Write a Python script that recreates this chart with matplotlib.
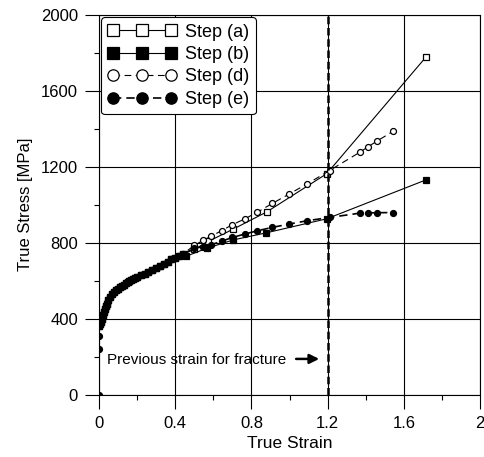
import matplotlib
matplotlib.use("Agg")
import matplotlib.pyplot as plt
from matplotlib.ticker import MultipleLocator

plt.rcParams['font.family'] = ['Liberation Sans', 'DejaVu Sans']

# shared initial flow curve (all steps)
base_strain = [0.0, 0.005, 0.01, 0.015, 0.02, 0.025, 0.03, 0.035, 0.04, 0.05, 0.06, 0.07,
               0.08, 0.09, 0.10, 0.11, 0.12, 0.13, 0.14, 0.15, 0.16, 0.17, 0.18, 0.19,
               0.20, 0.22, 0.24, 0.26, 0.28, 0.30, 0.32, 0.34, 0.36, 0.38, 0.40,
               0.42, 0.44]
base_stress = [363, 372, 385, 400, 420, 436, 450, 465, 478, 498, 514, 528,
               540, 550, 558, 566, 573, 580, 586, 592, 598, 603, 608, 613,
               618, 628, 638, 648, 658, 668, 678, 690, 700, 712, 722,
               732, 740]

# elastic loading points (step e only)
load_strain = [0.0, 0.0, 0.0]
load_stress = [0, 240, 307]

a_strain = [0.50, 0.574, 0.705, 0.88, 1.195, 1.714]
a_stress = [765, 807, 872, 962, 1163, 1775]

b_strain = [0.455, 0.569, 0.705, 0.877, 1.195, 1.714]
b_stress = [728, 772, 815, 852, 926, 1130]

de_strain = [0.50, 0.545, 0.59, 0.644, 0.70, 0.766, 0.831, 0.91, 0.997, 1.093, 1.21,
             1.37, 1.412, 1.459, 1.543]
d_stress = [786, 812, 835, 864, 895, 926, 961, 1007, 1056, 1110, 1180,
            1277, 1305, 1335, 1386]
e_stress = [770, 780, 790, 808, 828, 846, 863, 881, 898, 916, 933,
            956, 957, 958, 959]

fracture_strain = 1.2

fig = plt.figure(figsize=(4.85, 4.57), dpi=100, facecolor='white')
ax = fig.add_axes([0.204, 0.136, 0.786, 0.832])

ms = 4.3
ax.plot(base_strain + a_strain, base_stress + a_stress, '-', color='black', lw=0.8,
        marker='s', ms=ms, mfc='white', mec='black', mew=0.9, label='Step (a)', zorder=3)
ax.plot(base_strain + b_strain, base_stress + b_stress, '-', color='black', lw=0.8,
        marker='s', ms=ms, mfc='black', mec='black', mew=0.9, label='Step (b)', zorder=3)
ax.plot(base_strain + de_strain, base_stress + d_stress, linestyle=(0, (6, 4)), color='black', lw=0.8,
        marker='o', ms=ms, mfc='white', mec='black', mew=0.9, label='Step (d)', zorder=3)
ax.plot(load_strain + base_strain + de_strain, load_stress + base_stress + e_stress,
        linestyle=(0, (5, 3)), color='black', lw=1.2,
        marker='o', ms=ms, mfc='black', mec='black', mew=0.9, label='Step (e)', zorder=3)

ax.plot([fracture_strain, fracture_strain], [0, 2000], color='black', lw=1.8,
        linestyle=(0, (3, 1.5)), zorder=3)

ax.annotate('', xy=(1.17, 189), xytext=(1.02, 189),
            arrowprops=dict(arrowstyle='-|>', lw=1.8, color='black', mutation_scale=14))
ax.text(0.04, 185, 'Previous strain for fracture', fontsize=11, va='center', ha='left')

ax.set_xlim(0, 2)
ax.set_ylim(0, 2000)
ax.xaxis.set_minor_locator(MultipleLocator(0.2))
ax.yaxis.set_major_locator(MultipleLocator(400))
ax.yaxis.set_minor_locator(MultipleLocator(200))
ax.set_xticks([0, 0.4, 0.8, 1.2, 1.6, 2.0])
ax.set_xticklabels(['0', '0.4', '0.8', '1.2', '1.6', '2'])
ax.tick_params(which='major', direction='out', length=10, width=0.8, labelsize=12, pad=5)
ax.tick_params(which='minor', direction='out', length=3.6, width=0.8)
ax.grid(True, which='major', color='black', lw=0.8)
ax.set_axisbelow(True)
for s in ax.spines.values():
    s.set_linewidth(0.8)

ax.set_xlabel('True Strain', fontsize=12.5, labelpad=4)
ax.set_ylabel('True Stress [MPa]', fontsize=12, labelpad=6)

leg = ax.legend(loc='upper left', bbox_to_anchor=(0.006, 0.993), borderaxespad=0,
                numpoints=3, handlelength=3.8, handletextpad=0.5, labelspacing=0.3,
                borderpad=0.35, markerscale=1.9, fontsize=13, fancybox=True,
                framealpha=1, edgecolor='black')
leg.get_frame().set_linewidth(0.8)
leg.set_zorder(5)

fig.savefig('out.png', dpi=100, facecolor='white')
